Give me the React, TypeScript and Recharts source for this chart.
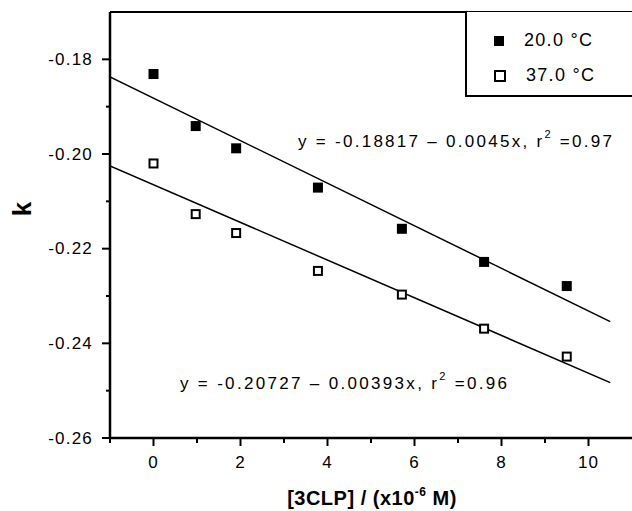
import { ComposedChart, Customized, Legend, Line, ReferenceLine, Scatter, XAxis, YAxis } from "recharts";

// measured concentrations (x10^-6 M)
const conc = [0, 0.97, 1.9, 3.78, 5.71, 7.6, 9.5];
// k at 20.0 °C and 37.0 °C
const k20 = [-0.1831, -0.1941, -0.1988, -0.2071, -0.2158, -0.2228, -0.2279];
const k37 = [-0.202, -0.2127, -0.2167, -0.2247, -0.2297, -0.2369, -0.2428];
// fitted line end points
const fitX = [-1, 10.5];
const fit20 = [-0.1837, -0.2354];
const fit37 = [-0.2025, -0.2483];

const xTicks = [-1, 0, 1, 2, 3, 4, 5, 6, 7, 8, 9, 10];
const yTicks = [-0.26, -0.25, -0.24, -0.23, -0.22, -0.21, -0.2, -0.19, -0.18];

const pts20 = conc.map((x, i) => ({ x, y: k20[i] }));
const pts37 = conc.map((x, i) => ({ x, y: k37[i] }));
const line20 = fitX.map((x, i) => ({ x, y: fit20[i] }));
const line37 = fitX.map((x, i) => ({ x, y: fit37[i] }));

const FONT = "'Liberation Sans', Arial, sans-serif";

function FilledSquare({ cx, cy }: any) {
  return <rect x={cx - 5} y={cy - 5} width={10} height={10} fill="#000" />;
}

function OpenSquare({ cx, cy }: any) {
  return <rect x={cx - 4} y={cy - 4} width={8} height={8} fill="#fff" stroke="#000" strokeWidth={2} />;
}

function YTick({ x, y, payload }: any) {
  const v = payload.value;
  const major = Math.abs(Math.round(v * 100)) % 2 === 0;
  return (
    <g>
      <line x1={x} x2={x - (major ? 8 : 4)} y1={y} y2={y} stroke="#000" strokeWidth={2} />
      {major && (
        <text x={x - 17} y={y} textAnchor="end" dominantBaseline="central" fontSize={17} letterSpacing={1.2} fill="#000" fontFamily={FONT}>
          {v.toFixed(2)}
        </text>
      )}
    </g>
  );
}

function XTick({ x, y, payload }: any) {
  const v = payload.value;
  const major = v % 2 === 0;
  return (
    <g>
      <line x1={x} x2={x} y1={y} y2={y + (major ? 8 : 5)} stroke="#000" strokeWidth={2} />
      {major && (
        <text x={x} y={y + 24} textAnchor="middle" dominantBaseline="central" fontSize={17} letterSpacing={1} fill="#000" fontFamily={FONT}>
          {v}
        </text>
      )}
    </g>
  );
}

function Equation({ x, y, a, b, r2, width }: any) {
  return (
    <text x={x} y={y} fontSize={17} fill="#000" fontFamily={FONT} dominantBaseline="central" textLength={width} lengthAdjust="spacing">
      <tspan>{`y = ${a} \u2013 ${b}x, r`}</tspan>
      <tspan dy={-7} fontSize={11}>2</tspan>
      <tspan dy={7}>{` =${r2}`}</tspan>
    </text>
  );
}

function Annotations() {
  return (
    <g>
      <Equation x={298} y={141} a="-0.18817" b="0.0045" r2="0.97" width={314} />
      <Equation x={180} y={383} a="-0.20727" b="0.00393" r2="0.96" width={327} />
      <text x={22} y={209} transform="rotate(-90 22 209)" textAnchor="middle" dominantBaseline="central" fontSize={26} fontWeight="bold" fontFamily={FONT} fill="#000">
        k
      </text>
      <text x={372} y={505} textAnchor="middle" fontSize={20} fontWeight="bold" fontFamily={FONT} fill="#000" letterSpacing={0.5}>
        <tspan>[3CLP] / (x10</tspan>
        <tspan dy={-9} fontSize={12}>-6</tspan>
        <tspan dy={9}> M)</tspan>
      </text>
    </g>
  );
}

function LegendBox() {
  const items = [
    { label: "20.0 \u00b0C", filled: true },
    { label: "37.0 \u00b0C", filled: false },
  ];
  return (
    <div style={{ width: 170, height: 85, border: "2px solid #000", borderTop: "none", background: "#fff", boxSizing: "border-box", fontFamily: FONT, fontSize: 18, color: "#000", paddingTop: 11, paddingLeft: 27 }}>
      {items.map((it) => (
        <div key={it.label} style={{ display: "flex", alignItems: "center", height: 35, letterSpacing: 1.3 }}>
          <span style={{ display: "inline-block", width: it.filled ? 10 : 8, height: it.filled ? 10 : 8, background: it.filled ? "#000" : "#fff", border: it.filled ? "none" : "2px solid #000", marginRight: 20 }} />
          {it.label}
        </div>
      ))}
    </div>
  );
}

export default function App() {
  return (
    <div style={{ position: "absolute", left: 0, top: 0, width: 632, height: 511, background: "#fff" }}>
      <ComposedChart width={632} height={511} margin={{ top: 12, right: 0, bottom: 0, left: 0 }}>
        <XAxis
          type="number"
          dataKey="x"
          domain={[-1, 11]}
          ticks={xTicks}
          allowDataOverflow
          tick={<XTick />}
          tickLine={false}
          tickSize={0}
          tickMargin={0}
          stroke="#000"
          strokeWidth={2.5}
          height={73}
        />
        <YAxis
          type="number"
          dataKey="y"
          domain={[-0.26, -0.17]}
          ticks={yTicks}
          allowDataOverflow
          tick={<YTick />}
          tickLine={false}
          tickSize={0}
          tickMargin={0}
          stroke="#000"
          strokeWidth={2.5}
          width={110}
        />
        <ReferenceLine y={-0.17} stroke="#000" strokeWidth={2} />
        <Line data={line20} dataKey="y" type="linear" stroke="#000" strokeWidth={1.5} dot={false} isAnimationActive={false} legendType="none" />
        <Line data={line37} dataKey="y" type="linear" stroke="#000" strokeWidth={1.5} dot={false} isAnimationActive={false} legendType="none" />
        <Scatter data={pts20} dataKey="y" shape={<FilledSquare />} isAnimationActive={false} />
        <Scatter data={pts37} dataKey="y" shape={<OpenSquare />} isAnimationActive={false} />
        <Customized component={Annotations} />
        <Legend
          layout="vertical"
          align="center"
          verticalAlign="middle"
          content={<LegendBox />}
          wrapperStyle={{ position: "absolute", left: 465, top: 12, width: 170 }}
        />
      </ComposedChart>
    </div>
  );
}
